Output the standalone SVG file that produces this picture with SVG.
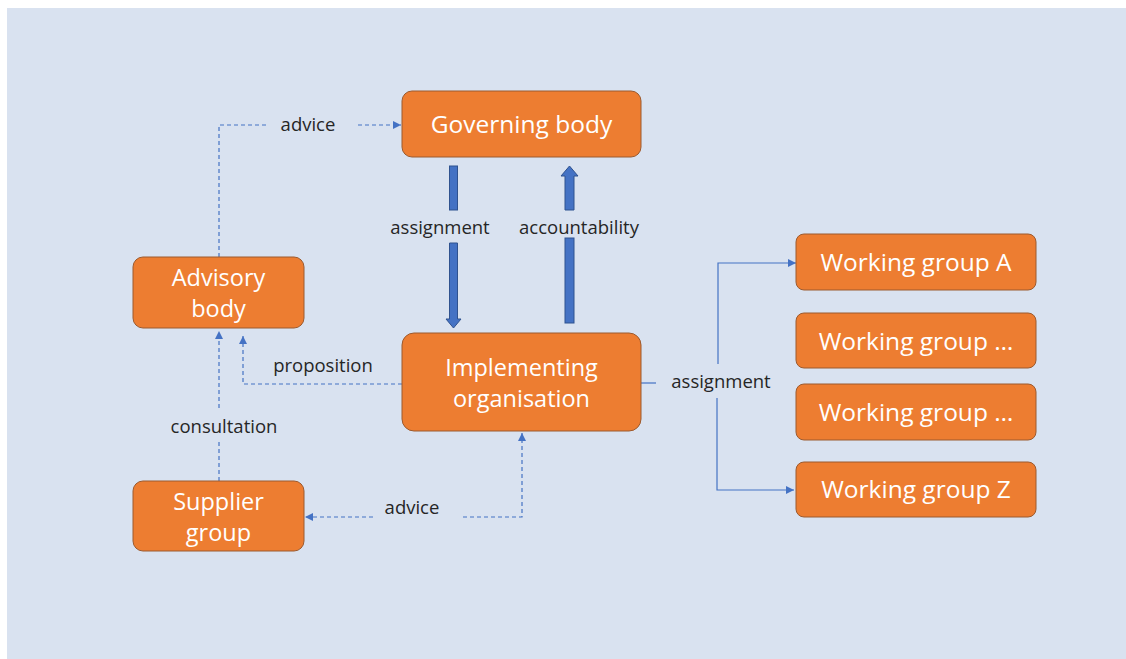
<svg xmlns="http://www.w3.org/2000/svg" width="1126" height="659" viewBox="0 0 1126 659">
<defs>
<style>
.node rect{fill:#ED7D31;stroke:#9C5A2E;stroke-width:1}
.node text{fill:#FFFFFF;font-family:"Open Sans","Noto Sans",sans-serif;font-size:24.5px;text-anchor:middle}
.node text.ml{font-size:23.5px}
.lbl{fill:#262626;font-family:"Open Sans","Noto Sans",sans-serif;font-size:18.5px;text-anchor:middle}
.dash{fill:none;stroke:#4472C4;stroke-width:1.2;stroke-dasharray:4 3}
.solid{fill:none;stroke:#4472C4;stroke-width:1.2}
.bar{fill:#4472C4;stroke:#2F528F;stroke-width:1}
</style>
<marker id="ah" viewBox="0 0 10 10" refX="10" refY="5" markerWidth="8" markerHeight="8" markerUnits="userSpaceOnUse" orient="auto">
<path d="M0,0 L10,5 L0,10 z" fill="#4472C4"/>
</marker>
</defs>
<rect x="0" y="0" width="1126" height="659" fill="#FFFFFF"/>
<rect x="7" y="8" width="1119" height="651" fill="#D9E2F0"/>

<g id="connectors">
<!-- advice top -->
<polyline class="dash" points="219,257 219,125 269,125"/>
<line class="dash" x1="358" y1="125" x2="401" y2="125" marker-end="url(#ah)"/>
<text class="lbl" x="308" y="131">advice</text>
<!-- assignment block arrow -->
<rect class="bar" x="449.5" y="166" width="8" height="44"/>
<path class="bar" d="M449.5,243 H457.5 V319 H461 L453.5,328 L446,319 H449.5 Z"/>
<text class="lbl" x="440" y="234">assignment</text>
<!-- accountability block arrow -->
<rect class="bar" x="565" y="238" width="9" height="85"/>
<path class="bar" d="M565,210 V176 H561 L569.5,166 L578,176 H574 V210 Z"/>
<text class="lbl" x="579" y="234">accountability</text>
<!-- proposition -->
<polyline class="dash" points="402,384 243,384 243,336" marker-end="url(#ah)"/>
<text class="lbl" x="323" y="372">proposition</text>
<!-- consultation -->
<line class="dash" x1="219" y1="481" x2="219" y2="440"/>
<line class="dash" x1="219" y1="408" x2="219" y2="331" marker-end="url(#ah)"/>
<text class="lbl" x="224" y="433">consultation</text>
<!-- advice bottom -->
<polyline class="dash" points="463,517 522,517 522,433" marker-end="url(#ah)"/>
<line class="dash" x1="373" y1="517" x2="305" y2="517" marker-end="url(#ah)"/>
<text class="lbl" x="412" y="514">advice</text>
<!-- assignment to working groups -->
<line class="solid" x1="641" y1="383" x2="656" y2="383"/>
<text class="lbl" x="721" y="388">assignment</text>
<polyline class="solid" points="718,364 718,263 796,263" marker-end="url(#ah)"/>
<polyline class="solid" points="717,398 717,490 794,490" marker-end="url(#ah)"/>
</g>

<g id="governing-body" class="node">
<rect x="402" y="91" width="239" height="66" rx="10"/>
<text x="521.5" y="133">Governing body</text>
</g>
<g id="advisory-body" class="node">
<rect x="133" y="257" width="171" height="71" rx="10"/>
<text class="ml" x="218.5" y="286">Advisory</text>
<text class="ml" x="218.5" y="317">body</text>
</g>
<g id="implementing-organisation" class="node">
<rect x="402" y="333" width="239" height="98" rx="12"/>
<text class="ml" x="521.5" y="376">Implementing</text>
<text class="ml" x="521.5" y="407">organisation</text>
</g>
<g id="supplier-group" class="node">
<rect x="133" y="481" width="171" height="70" rx="10"/>
<text class="ml" x="218.5" y="510">Supplier</text>
<text class="ml" x="218.5" y="541">group</text>
</g>
<g id="working-group-a" class="node">
<rect x="796" y="234" width="240" height="56" rx="8"/>
<text x="916" y="271">Working group A</text>
</g>
<g id="working-group-2" class="node">
<rect x="796" y="313" width="240" height="55" rx="8"/>
<text x="916" y="350">Working group …</text>
</g>
<g id="working-group-3" class="node">
<rect x="796" y="384" width="240" height="56" rx="8"/>
<text x="916" y="421">Working group …</text>
</g>
<g id="working-group-z" class="node">
<rect x="796" y="462" width="240" height="55" rx="8"/>
<text x="916" y="498">Working group Z</text>
</g>
</svg>
